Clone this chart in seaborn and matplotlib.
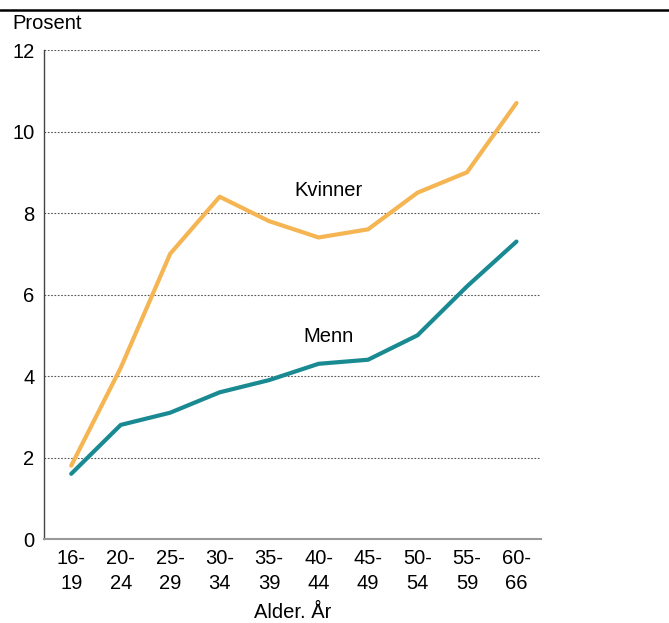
import matplotlib
matplotlib.use("Agg")
import matplotlib.pyplot as plt
from matplotlib.lines import Line2D
import seaborn as sns
import pandas as pd

age_groups = ["16-\n19", "20-\n24", "25-\n29", "30-\n34", "35-\n39",
              "40-\n44", "45-\n49", "50-\n54", "55-\n59", "60-\n66"]
kvinner = [1.8, 4.2, 7.0, 8.4, 7.8, 7.4, 7.6, 8.5, 9.0, 10.7]
menn = [1.6, 2.8, 3.1, 3.6, 3.9, 4.3, 4.4, 5.0, 6.2, 7.3]
y_ticks = [0, 2, 4, 6, 8, 10, 12]

sns.set_style("white")
plt.rcParams["font.family"] = ["Liberation Sans", "DejaVu Sans"]
plt.rcParams["text.color"] = "black"
plt.rcParams["xtick.labelcolor"] = "black"
plt.rcParams["ytick.labelcolor"] = "black"
plt.rcParams["axes.labelcolor"] = "black"
FS = 14.5

df = pd.DataFrame({
    "pos": list(range(len(age_groups))) * 2,
    "verdi": kvinner + menn,
    "kjonn": ["Kvinner"] * len(kvinner) + ["Menn"] * len(menn),
})

fig = plt.figure(figsize=(6.69, 6.23), dpi=100)
ax = fig.add_axes([0.0658, 0.1348, 0.7432, 0.7849])

sns.lineplot(data=df, x="pos", y="verdi", hue="kjonn",
             palette={"Kvinner": "#F5B552", "Menn": "#1A8A92"},
             linewidth=3.0, legend=False, ax=ax, zorder=3)

ax.set_xlim(-0.55, 9.5)
ax.set_ylim(0, 12)
ax.set_yticks(y_ticks)
ax.set_yticklabels([str(t) for t in y_ticks], fontsize=FS)
ax.set_xticks(range(len(age_groups)))
ax.set_xticklabels(age_groups, fontsize=FS, linespacing=1.45)

for t in y_ticks[1:]:
    ax.axhline(t, color="#555555", linestyle=(0, (1.5, 1.5)), linewidth=0.8,
               xmin=0, xmax=0.995, zorder=1)

ax.tick_params(axis="y", length=0, pad=7)
ax.tick_params(axis="x", direction="in", length=10, width=1, color="#888888", pad=7)

for side in ("top", "right"):
    ax.spines[side].set_visible(False)
ax.spines["left"].set_color("#444444")
ax.spines["left"].set_linewidth(1.0)
ax.spines["bottom"].set_color("#999999")
ax.spines["bottom"].set_linewidth(1.5)

ax.set_xlabel("Alder. År", fontsize=FS, labelpad=7)
ax.set_ylabel("")

ax.text(5.2, 8.55, "Kvinner", fontsize=FS, ha="center", va="center")
ax.text(5.2, 4.96, "Menn", fontsize=FS, ha="center", va="center")

fig.text(0.018, 0.962, "Prosent", fontsize=FS, ha="left", va="center")
fig.add_artist(Line2D([0, 1], [0.984, 0.984], color="black", linewidth=1.8,
                      transform=fig.transFigure))

fig.savefig("out.png", dpi=100, facecolor="white")
